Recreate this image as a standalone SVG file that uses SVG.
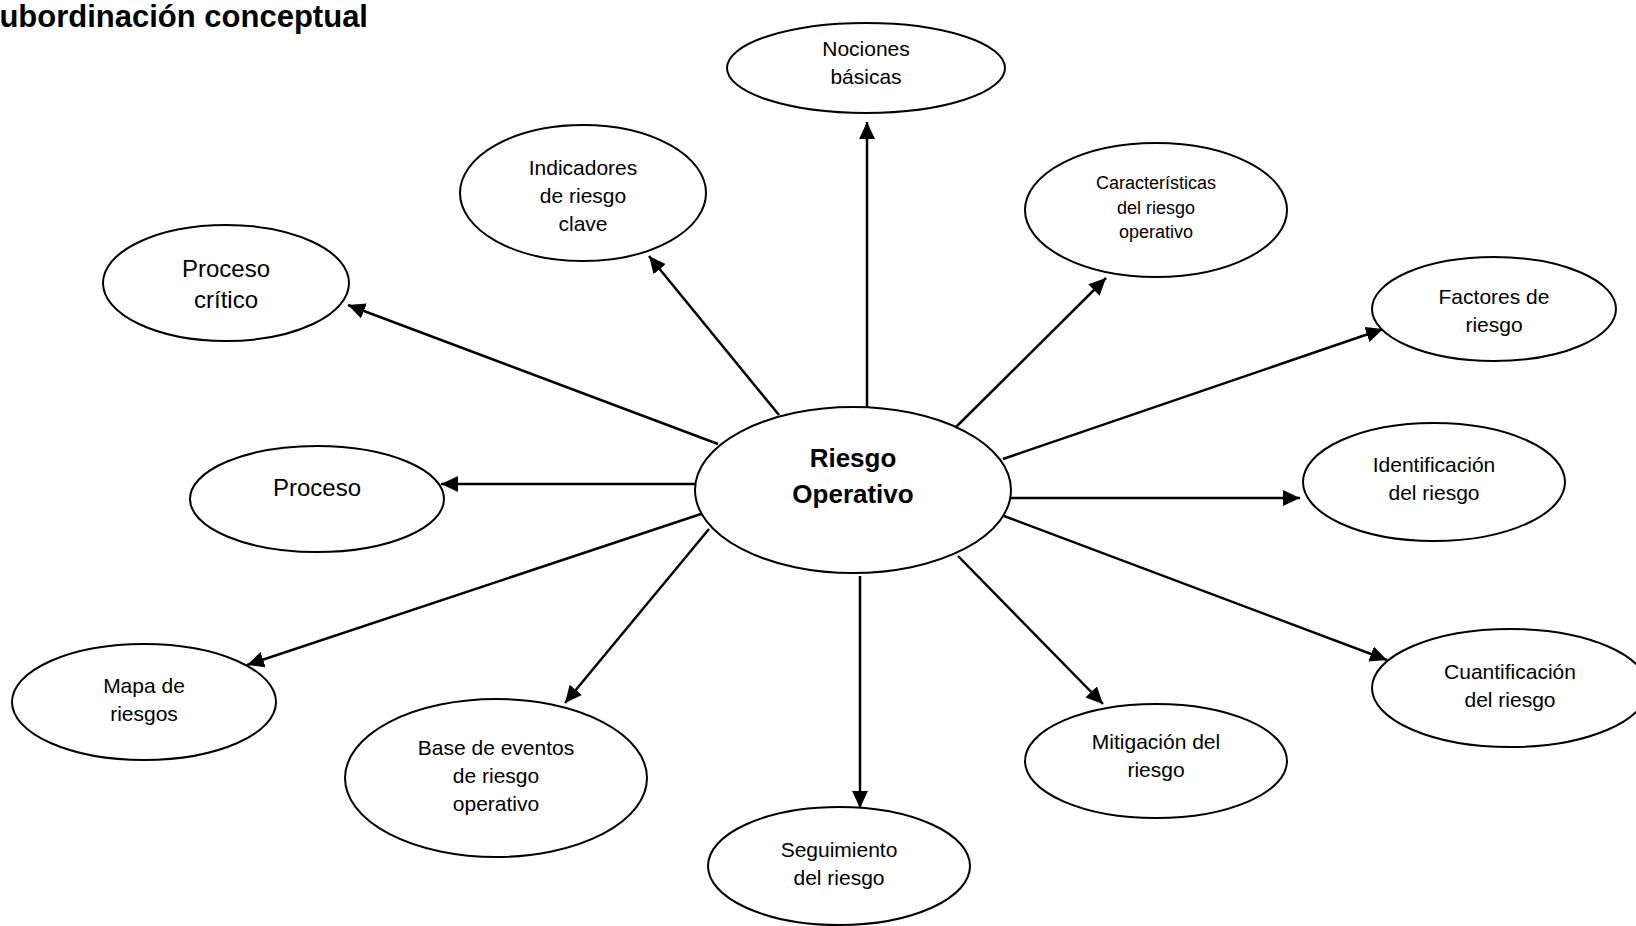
<svg xmlns="http://www.w3.org/2000/svg" width="1636" height="926" viewBox="0 0 1636 926">
<style>
.n ellipse{fill:#fff;stroke:#000;stroke-width:2}
text{font-family:"Liberation Sans",Arial,sans-serif;fill:#000;text-anchor:middle;dominant-baseline:central}
.t{font-size:21px}
.s{font-size:18px}
.b{font-size:24px}
.c{font-size:26px;font-weight:bold}
.edges line{stroke:#000;stroke-width:2.5;marker-end:url(#ah)}
</style>
<defs>
<marker id="ah" markerUnits="userSpaceOnUse" markerWidth="18" markerHeight="16" refX="17" refY="8" orient="auto">
<path d="M0,0 L17,8 L0,16 Z" fill="#000"/>
</marker>
</defs>
<rect width="1636" height="926" fill="#fff"/>
<text x="368" y="27" style="font-size:31px;font-weight:bold;text-anchor:end;dominant-baseline:alphabetic">ubordinación conceptual</text>
<g class="edges">
<line x1="867" y1="407" x2="867" y2="122"/>
<line x1="779" y1="415" x2="649" y2="256"/>
<line x1="718" y1="444" x2="348" y2="305"/>
<line x1="695" y1="484" x2="441" y2="484"/>
<line x1="701" y1="514" x2="247" y2="665"/>
<line x1="709" y1="529" x2="565" y2="703"/>
<line x1="860" y1="576" x2="860" y2="808"/>
<line x1="958" y1="556" x2="1103" y2="704"/>
<line x1="1004" y1="516" x2="1387" y2="660"/>
<line x1="1010" y1="498" x2="1300" y2="498"/>
<line x1="1003" y1="459" x2="1383" y2="329"/>
<line x1="956" y1="427" x2="1106" y2="278"/>
</g>
<g id="center" class="n"><ellipse cx="853" cy="490" rx="158" ry="83"/><text class="c" x="853" y="458">Riesgo</text><text class="c" x="853" y="494">Operativo</text></g>
<g id="nociones" class="n"><ellipse cx="866" cy="68" rx="139" ry="45"/><text class="t" x="866" y="48">Nociones</text><text class="t" x="866" y="76">básicas</text></g>
<g id="indicadores" class="n"><ellipse cx="583" cy="193" rx="123" ry="68"/><text class="t" x="583" y="167">Indicadores</text><text class="t" x="583" y="195">de riesgo</text><text class="t" x="583" y="223">clave</text></g>
<g id="proceso-critico" class="n"><ellipse cx="226" cy="283" rx="123" ry="58"/><text class="b" x="226" y="268">Proceso</text><text class="b" x="226" y="299">crítico</text></g>
<g id="proceso" class="n"><ellipse cx="317" cy="499" rx="127" ry="53"/><text class="b" x="317" y="487">Proceso</text></g>
<g id="mapa" class="n"><ellipse cx="144" cy="702" rx="132" ry="58"/><text class="t" x="144" y="685">Mapa de</text><text class="t" x="144" y="713">riesgos</text></g>
<g id="base" class="n"><ellipse cx="496" cy="778" rx="151" ry="79"/><text class="t" x="496" y="747">Base de eventos</text><text class="t" x="496" y="775">de riesgo</text><text class="t" x="496" y="803">operativo</text></g>
<g id="seguimiento" class="n"><ellipse cx="839" cy="866" rx="131" ry="59"/><text class="t" x="839" y="849">Seguimiento</text><text class="t" x="839" y="877">del riesgo</text></g>
<g id="mitigacion" class="n"><ellipse cx="1156" cy="761" rx="131" ry="57"/><text class="t" x="1156" y="741">Mitigación del</text><text class="t" x="1156" y="769">riesgo</text></g>
<g id="cuantificacion" class="n"><ellipse cx="1510" cy="688" rx="138" ry="59"/><text class="t" x="1510" y="671">Cuantificación</text><text class="t" x="1510" y="699">del riesgo</text></g>
<g id="identificacion" class="n"><ellipse cx="1434" cy="482" rx="131" ry="59"/><text class="t" x="1434" y="464">Identificación</text><text class="t" x="1434" y="492">del riesgo</text></g>
<g id="factores" class="n"><ellipse cx="1494" cy="309" rx="122" ry="52"/><text class="t" x="1494" y="296">Factores de</text><text class="t" x="1494" y="324">riesgo</text></g>
<g id="caracteristicas" class="n"><ellipse cx="1156" cy="210" rx="131" ry="67"/><text class="s" x="1156" y="183">Características</text><text class="s" x="1156" y="208">del riesgo</text><text class="s" x="1156" y="232">operativo</text></g>
</svg>
